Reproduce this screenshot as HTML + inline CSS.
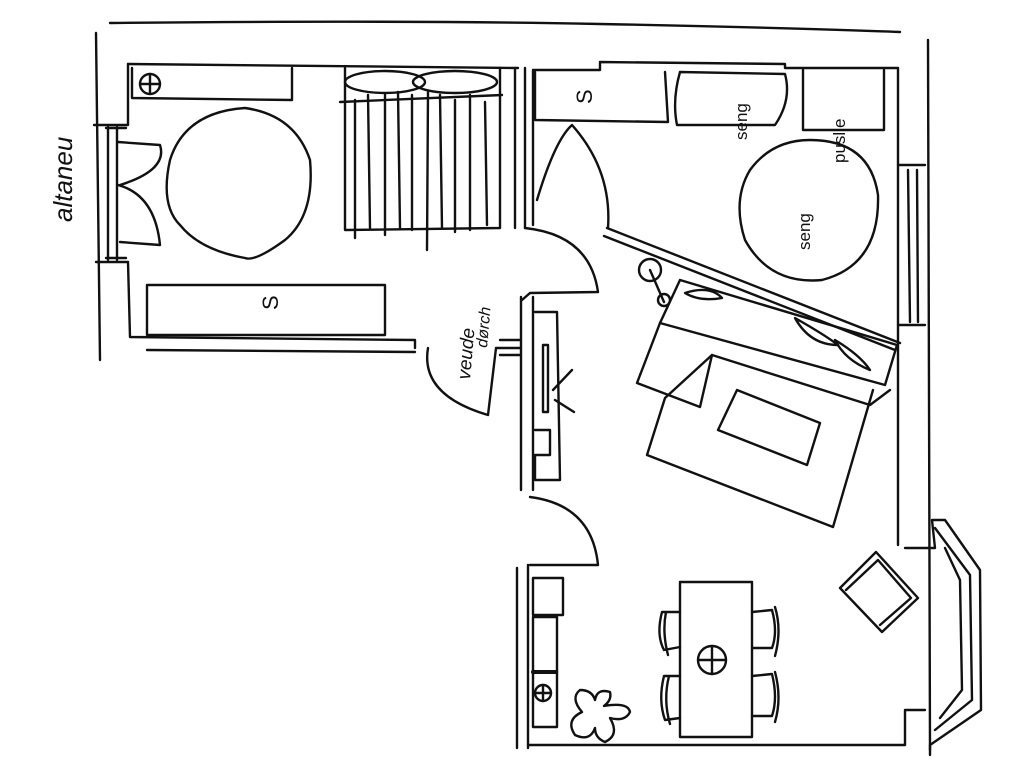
<!DOCTYPE html>
<html><head><meta charset="utf-8"><style>
html,body{margin:0;padding:0;background:#fff;}
svg{display:block}
text{font-family:"Liberation Sans",sans-serif;fill:#111}
</style></head><body>
<svg width="1024" height="767" viewBox="0 0 1024 767" xmlns="http://www.w3.org/2000/svg" fill="none" stroke="#111" stroke-width="2.4" stroke-linecap="round" stroke-linejoin="round">
<!-- outer walls -->
<path d="M110 23 Q400 20 600 24 T900 32"/>
<path d="M96 33 L100 360"/>
<path d="M928 40 L930 750"/>
<!-- left room -->
<path d="M128 64 L518 68"/>
<path d="M128 64 L128 125 L94 125"/>
<path d="M96 262 L128 262 L130 337 L415 340 L415 348"/>
<path d="M147 350 L415 352"/>
<path d="M108 127 L108 260 M117 127 L117 260 M106 128 L126 128 M106 258 L126 258"/>
<path d="M118 142 L160 145 Q168 170 120 185"/>
<path d="M118 185 Q155 195 160 245 L120 242"/>
<path d="M132 68 L132 98 L292 100 L292 68"/>
<circle cx="150" cy="84" r="10"/><path d="M140 84 L160 84 M150 74 L150 94"/>
<path d="M245 108 Q295 115 310 160 Q315 215 285 240 Q255 262 245 258 Q200 250 180 225 Q160 205 170 160 Q185 112 245 108 Z"/>
<!-- bed -->
<path d="M345 68 L345 230 L500 228 L500 68"/>
<path d="M340 102 L502 95"/>
<ellipse cx="385" cy="82" rx="40" ry="11"/><ellipse cx="455" cy="82" rx="42" ry="11"/>
<path d="M355 100 L355 238 M368 95 L370 228 M385 95 L385 235 M398 92 L400 228 M412 95 L412 230 M428 92 L427 250 M440 95 L442 228 M455 100 L455 232 M470 95 L470 230 M485 102 L487 225"/>
<path d="M515 68 L515 228 M525 68 L525 228"/>
<rect x="147" y="285" width="238" height="50"/>
<text x="270" y="318" font-size="22" stroke="none" transform="rotate(-90 270 310)">S</text>
<text x="0" y="0" font-size="26" font-style="italic" stroke="none" transform="translate(72 222) rotate(-90)">altaneu</text>
<text x="0" y="0" font-size="19" font-style="italic" stroke="none" transform="translate(470 380) rotate(-85)">veude</text>
<text x="0" y="0" font-size="16" font-style="italic" stroke="none" transform="translate(487 348) rotate(-85)">dørch</text>
<path d="M428 348 Q420 395 488 415 L496 348 L520 348"/>
<path d="M525 228 Q590 235 598 292 L530 293 L522 300"/>
<path d="M521 297 L521 490 M533 297 L533 490"/>
<path d="M535 312 L557 312 L560 480 L535 480 L535 455 L550 455 L550 430 L535 430"/>
<path d="M543 345 L548 345 L548 412 L543 412 Z"/>
<path d="M553 390 L572 370 M555 400 L574 412"/>
<path d="M500 340 L520 340 M500 355 L520 355"/>
<!-- right room -->
<path d="M533 70 L533 225 M533 70 L600 70 L600 62 L785 64 L785 68 L898 68 L898 545"/>
<path d="M535 72 L535 120 L668 122 L665 72"/>
<text x="0" y="0" font-size="22" stroke="none" transform="translate(592 104) rotate(-90)">S</text>
<path d="M680 72 L785 74 Q792 100 775 125 L677 125 Q672 100 680 72"/>
<text x="0" y="0" font-size="17" stroke="none" transform="translate(747 140) rotate(-90)">seng</text>
<path d="M803 70 L803 130 L884 130 L884 70"/>
<text x="0" y="0" font-size="17" stroke="none" transform="translate(845 163) rotate(-90)">puslie</text>
<path d="M810 140 Q870 140 878 195 Q880 265 822 280 Q770 285 745 240 Q732 200 750 170 Q772 140 810 140 Z"/>
<text x="0" y="0" font-size="17" stroke="none" transform="translate(810 250) rotate(-90)">seng</text>
<path d="M898 165 L925 165 M898 325 L925 325 M908 170 L910 322 M917 170 L918 322"/>
<path d="M537 200 Q555 140 572 125 Q612 170 608 228"/>
<path d="M607 228 L900 343 M604 236 L895 350"/>
<circle cx="650" cy="270" r="11"/><path d="M650 270 L664 302"/><circle cx="664" cy="300" r="6"/>
<!-- sofa -->
<path d="M660 323 L680 280 L897 345 L885 385 Z"/>
<path d="M660 323 L637 383 L700 407 L712 355 L870 405 L890 390"/>
<path d="M685 293 Q710 285 722 298 Q700 302 685 293 Z"/>
<path d="M795 318 Q825 335 838 345 Q810 345 795 318 Z"/>
<path d="M835 340 Q860 355 870 370 Q845 360 835 340 Z"/>
<path d="M712 355 L665 398 L647 455 L833 527 L873 390"/>
<path d="M737 390 L820 423 L807 465 L718 430 Z"/>
<!-- lower area -->
<path d="M530 497 Q592 505 598 565 L530 565"/>
<path d="M517 568 L517 748 M528 565 L528 748 M528 745 L905 745 L905 710 L925 710"/>
<path d="M905 548 L935 548 L932 520 L945 520 L980 570 L981 710 L930 745 L930 755"/>
<path d="M935 528 L970 575 L972 700 L935 730"/>
<path d="M945 548 L960 580 L962 690 L940 718"/>
<rect x="533" y="578" width="30" height="37"/>
<rect x="533" y="617" width="24" height="55"/>
<rect x="533" y="672" width="24" height="55"/>
<path d="M533 672 L556 672" stroke-width="4"/>
<circle cx="543" cy="693" r="8"/><path d="M535 693 L551 693 M543 685 L543 701"/>
<path d="M575 735 Q565 720 582 712 Q570 698 580 690 Q592 690 595 700 Q597 688 610 692 Q612 700 604 706 Q628 702 630 712 Q625 722 610 718 Q620 735 605 742 Q595 738 595 728 Q590 742 575 735 Z"/>
<rect x="680" y="582" width="72" height="155"/>
<circle cx="712" cy="660" r="14"/><path d="M698 660 L726 660 M712 646 L712 674"/>
<path d="M680 612 L662 612 Q656 635 664 650 L680 647 M666 612 Q662 632 668 655"/>
<path d="M680 676 L664 676 Q658 700 665 720 L680 718 M669 676 Q663 700 670 724"/>
<path d="M752 612 L772 610 Q778 632 772 648 L752 648 M775 607 Q782 630 775 656"/>
<path d="M752 676 L772 674 Q778 698 772 716 L752 716 M775 672 Q782 698 775 722"/>
<path d="M840 588 L876 552 L918 598 L882 632 Z"/>
<path d="M846 590 L878 560 L911 598 L880 625"/>
</svg>
</body></html>
